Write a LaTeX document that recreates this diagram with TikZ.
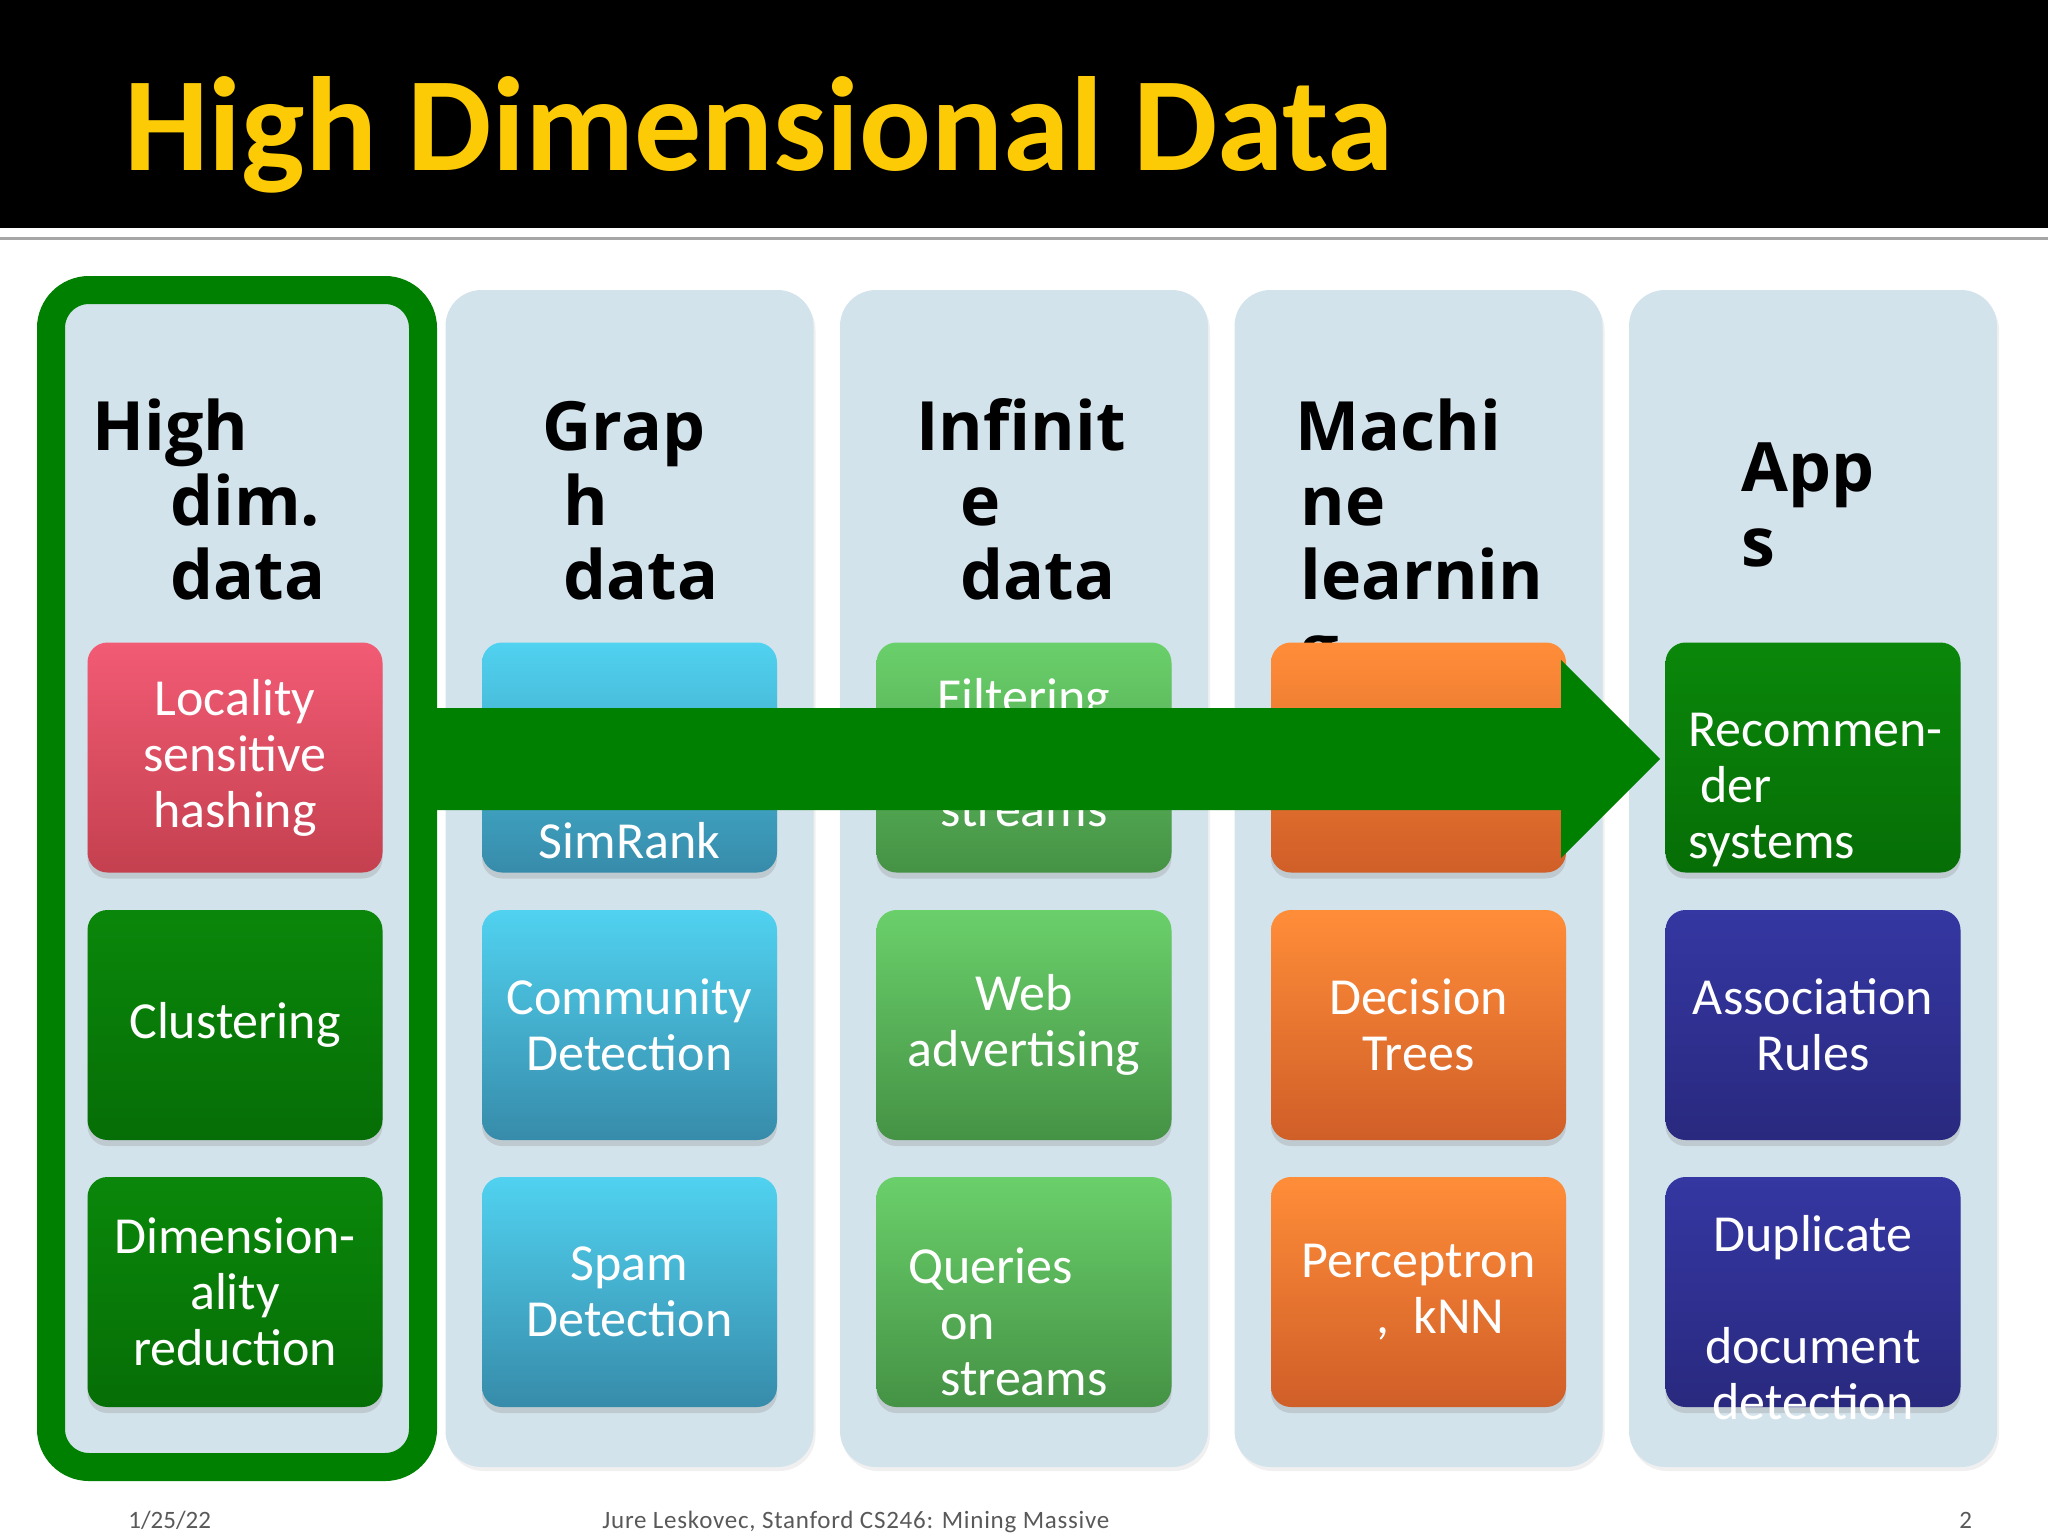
\documentclass[tikz,border=0pt]{standalone}
\usepackage{fontspec}
\setmainfont{Carlito}
\newfontfamily\headfont{Open Sans}
\usepackage{xcolor}
\usepackage{tikz}
\usetikzlibrary{shadows,calc}
\definecolor{TitleGold}{HTML}{FCCB05}
\definecolor{RuleGray}{HTML}{A6A6A6}
\definecolor{FootGray}{HTML}{595959}
\definecolor{PanelBlue}{HTML}{D3E3EC}
\definecolor{ArrowGreen}{HTML}{008000}
\definecolor{PinkTop}{HTML}{F25B74}
\definecolor{PinkBot}{HTML}{C4404F}
\definecolor{GreenTop}{HTML}{0A870A}
\definecolor{GreenBot}{HTML}{066E06}
\definecolor{CyanTop}{HTML}{50D2F0}
\definecolor{CyanBot}{HTML}{378BAA}
\definecolor{LeafTop}{HTML}{6AD06A}
\definecolor{LeafBot}{HTML}{459245}
\definecolor{OrangeTop}{HTML}{FF8D38}
\definecolor{OrangeBot}{HTML}{D05E28}
\definecolor{NavyTop}{HTML}{3537A2}
\definecolor{NavyBot}{HTML}{29297F}

\begin{document}
\begin{tikzpicture}[x=0.5pt,y=-0.5pt,
    panel/.style={fill=PanelBlue, rounded corners=18pt, minimum width=184pt,
      minimum height=588.5pt, inner sep=0pt,
      drop shadow={shadow xshift=1pt, shadow yshift=-2pt, opacity=0.12}},
    topic/.style={font=\headfont\bfseries\fontsize{34}{37.2}\selectfont,
      anchor=base west, align=left, inner sep=0pt},
    tile/.style={rounded corners=10pt, minimum width=147.5pt, minimum height=115pt,
      inner sep=0pt, top color=#1Top, bottom color=#1Bot, text=white,
      font=\fontsize{26}{28}\selectfont, align=center,
      drop shadow={shadow xshift=0pt, shadow yshift=-3pt, opacity=0.25}},
    tiletext/.style={text=white, font=\fontsize{26}{28}\selectfont, inner sep=0pt},
    foot/.style={anchor=base west, inner sep=0pt, text=FootGray,
      font=\fontsize{12.5}{14}\selectfont}]
  \useasboundingbox (0,0) rectangle (2048,1536);
  % title bar
  \fill[black] (0,0) rectangle (2048,228);
  \fill[RuleGray] (0,237) rectangle (2048,240);
  \node[anchor=base west, inner sep=0pt, text=TitleGold,
    font=\bfseries\fontsize{67}{70}\selectfont] (title) at (124,170) {High Dimensional Data};

  % the five columns
  \node[panel] (gr) at (629.5,878.5) {};
  \node[panel] (inf) at (1024,878.5) {};
  \node[panel] (ml) at (1418.5,878.5) {};
  \node[panel] (app) at (1813,878.5) {};
  \node[fill=PanelBlue, draw=ArrowGreen, line width=14pt, rounded corners=19pt,
    minimum width=186pt, minimum height=588.5pt, inner sep=0pt] (hd) at (237,878.5) {};

  % base of a multi-line node = its last line
  \node[topic] (hdhead) at (92,599.4) {High\\\hspace*{39pt}dim.\\\hspace*{39pt}data};
  \node[topic] (grhead) at (542,599.4) {Grap\\\hspace*{10.5pt}h\\\hspace*{10.5pt}data};
  \node[topic] (infhead) at (916,599.4) {Infinit\\\hspace*{22pt}e\\\hspace*{22pt}data};
  \node[topic] (mlhead) at (1295,673.8) {Machi\\\hspace*{2.5pt}ne\\\hspace*{2.5pt}learnin\\\hspace*{2.5pt}g};
  \node[topic] (apphead) at (1741,566) {App\\s};

  % tiles
  \node[tile=Pink] (hd1) at (235,757.5) {Locality\\sensitive\\hashing};
  \node[tile=Green] (hd2) at (235,1025) {Clustering};
  \node[tile=Green] (hd3) at (235,1292) {Dimension-\\ality\\reduction};

  \node[tile=Cyan] (gr1) at (629.5,757.5) {};
  \node[tiletext, anchor=base] (gr1t) at (629.5,858) {SimRank};
  \node[tile=Cyan] (gr2) at (629.5,1025) {Community\\Detection};
  \node[tile=Cyan] (gr3) at (629.5,1292) {Spam\\Detection};

  \node[tile=Leaf] (inf1) at (1024,757.5) {};
  \node[tiletext, anchor=base, align=center] (inf1t) at (1024,826) {Filtering\\[28pt]streams};
  \node[tile=Leaf] (inf2) at (1024,1025) {Web\\advertising};
  \node[tile=Leaf] (inf3) at (1024,1292) {};
  \node[tiletext, anchor=base west, align=left] (inf3t) at (908,1395)
    {Queries\\\hspace*{16pt}on\\\hspace*{16pt}streams};

  \node[tile=Orange] (ml1) at (1418.5,757.5) {};
  \node[tile=Orange] (ml2) at (1418.5,1025) {Decision\\Trees};
  \node[tile=Orange] (ml3) at (1418.5,1292) {Perceptron\\\hspace*{22pt},\hspace{12pt}kNN};

  \node[tile=Green] (app1) at (1813,757.5) {};
  \node[tiletext, anchor=base west, align=left] (app1t) at (1688,858)
    {Recommen-\\\hspace*{6pt}der\\systems};
  \node[tile=Navy] (app2) at (1813,1025) {Association\\Rules};
  \node[tile=Navy] (app3) at (1813,1292) {};
  \node[tiletext, anchor=base, align=center] (app3t) at (1813,1419)
    {Duplicate\\[28pt]document\\detection};

  % big arrow
  \fill[ArrowGreen] (413,708) -- (1561,708) -- (1561,660) -- (1660,759)
    -- (1561,858) -- (1561,810) -- (413,810) -- cycle;

  % footer
  \node[foot] (date) at (128,1528) {1/25/22};
  \node[foot, font=\addfontfeature{LetterSpace=3}\fontsize{12.5}{14}\selectfont] (course)
    at (602,1528) {Jure Leskovec, Stanford CS246: Mining Massive};
  \node[foot] (page) at (1959,1528) {2};
\end{tikzpicture}
\end{document}
